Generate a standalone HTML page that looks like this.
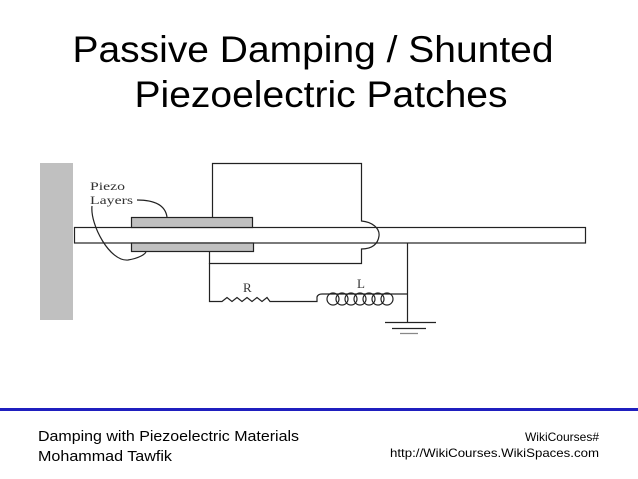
<!DOCTYPE html>
<html><head><style>
html,body{margin:0;padding:0;background:#fff;}
svg{display:block;}
</style></head><body>
<svg width="638" height="479" viewBox="0 0 638 479" xmlns="http://www.w3.org/2000/svg">
<rect width="638" height="479" fill="#fff"/>
<g font-family="Liberation Sans, Arial, sans-serif" fill="#000" text-anchor="middle">
<text x="313" y="62" font-size="37" textLength="481" lengthAdjust="spacingAndGlyphs">Passive Damping / Shunted</text>
<text x="321" y="107" font-size="37" textLength="373" lengthAdjust="spacingAndGlyphs">Piezoelectric Patches</text>
</g>
<rect x="40" y="163" width="33" height="157" fill="#c0c0c0"/>
<rect x="74.5" y="227.5" width="511" height="15.5" fill="#fff" stroke="#222" stroke-width="1.2"/>
<rect x="131.5" y="217.5" width="121" height="10" fill="#c0c0c0" stroke="#222" stroke-width="1.2"/>
<rect x="131.5" y="243" width="122" height="8.5" fill="#c0c0c0" stroke="#222" stroke-width="1.2"/>
<g fill="none" stroke="#222" stroke-width="1.2">
<path d="M212.5 217 V163.5 H361.5 V221 C372 222,380 228,379 236 C378 244,372 249,361.5 249 V263.5 H209.5 V252"/>
<path d="M209.5 263 V301.5 H222 l5 -4 l5 4 l5 -4 l5 4 l5 -4 l5 4 l5 -4 l5 4 l5 -4 l3 4 H317 V297 Q318 294 322 294 H408"/>
<path d="M327 299 a6 6 0 1 0 12 0 a6 6 0 1 0 -12 0 M336 299 a6 6 0 1 0 12 0 a6 6 0 1 0 -12 0 M345 299 a6 6 0 1 0 12 0 a6 6 0 1 0 -12 0 M354 299 a6 6 0 1 0 12 0 a6 6 0 1 0 -12 0 M363 299 a6 6 0 1 0 12 0 a6 6 0 1 0 -12 0 M372 299 a6 6 0 1 0 12 0 a6 6 0 1 0 -12 0 M381 299 a6 6 0 1 0 12 0 a6 6 0 1 0 -12 0"/>
<path d="M407.5 243 V322"/>
<path d="M385 322.5 H436 M392 328.5 H426"/>
<path d="M400 333.5 H418" stroke="#888"/>
<path d="M137 200 C150 200,165 203,167 217"/>
<path d="M92 206 C90 225,110 262,128 260 C140 258,145 254,146 252"/>
</g>
<g font-family="Liberation Serif, serif" font-size="12" fill="#333">
<text x="90" y="190" textLength="35" lengthAdjust="spacingAndGlyphs">Piezo</text>
<text x="90" y="204" textLength="43" lengthAdjust="spacingAndGlyphs">Layers</text>
<text x="243" y="292" font-size="13">R</text>
<text x="357" y="288" font-size="13">L</text>
</g>
<rect x="0" y="408" width="638" height="3" fill="#1f1fbf"/>
<g font-family="Liberation Sans, Arial, sans-serif" fill="#000">
<text x="38" y="441" font-size="15" textLength="261" lengthAdjust="spacingAndGlyphs">Damping with Piezoelectric Materials</text>
<text x="38" y="461" font-size="15" textLength="134" lengthAdjust="spacingAndGlyphs">Mohammad Tawfik</text>
<text x="599" y="441" font-size="12" text-anchor="end">WikiCourses#</text>
<text x="599" y="457" font-size="12" text-anchor="end" textLength="209" lengthAdjust="spacingAndGlyphs">http://WikiCourses.WikiSpaces.com</text>
</g>
</svg>
</body></html>
